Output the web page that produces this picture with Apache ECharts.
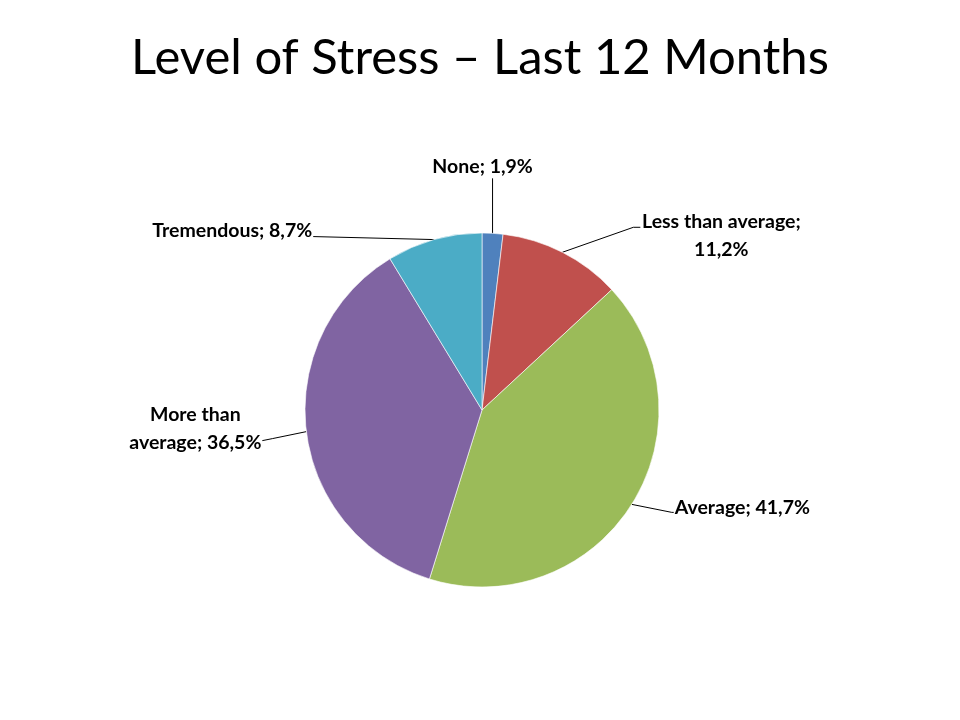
<!DOCTYPE html>
<html><head><meta charset="utf-8">
<script src="https://cdn.jsdelivr.net/npm/echarts@6/dist/echarts.min.js"></script>
<style>html,body{margin:0;padding:0;background:#fff}#c{width:960px;height:720px}</style>
</head><body><div id="c"></div>
<script>
var categories = ['None', 'Less than average', 'Average', 'More than average', 'Tremendous'];
var values = [1.9, 11.2, 41.7, 36.5, 8.7];
var labelTexts = ['None; 1,9%', 'Less than average;\n11,2%', 'Average; 41,7%', 'More than\naverage; 36,5%', 'Tremendous; 8,7%'];
var colors = ['#4F81BD', '#C0504D', '#9BBB59', '#8064A2', '#4BACC6'];

// label placement offsets relative to the slice anchor point (layout only)
var labelOffsets = [
  {dx: -10, dy: -67, align: 'center', line: [[0, -55]]},
  {dx: 159, dy: -17, align: 'center', line: [[71, -25], [78, -25]]},
  {dx: 43, dy: 3, align: 'left', line: [[40, 8], [42, 8]]},
  {dx: -111, dy: -3, align: 'center', line: [[-34, 7], [-44, 9]]},
  {dx: -122, dy: -9, align: 'right', line: [[-121, -3]]}
];

var chart = echarts.init(document.getElementById('c'), null, {renderer: 'canvas'});
var data = categories.map(function (c, i) {
  return {name: c, value: values[i], itemStyle: {color: colors[i]}};
});
chart.setOption({
  backgroundColor: '#fff',
  animation: false,
  title: {
    text: 'Level of Stress \u2013 Last 12 Months',
    left: 'center', top: 29,
    textStyle: {fontFamily: 'Lato', fontWeight: 'normal', fontSize: 49, color: '#000'}
  },
  series: [{
    type: 'pie',
    center: [482, 410],
    radius: 177,
    startAngle: 90,
    clockwise: true,
    data: data,
    itemStyle: {borderColor: 'rgba(255,255,255,0.6)', borderWidth: 1},
    label: {
      show: true,
      position: 'outside',
      formatter: function (p) { return labelTexts[p.dataIndex]; },
      fontFamily: 'Lato', fontWeight: 'bold', fontSize: 19.5, color: '#000',
      lineHeight: 28
    },
    labelLine: {show: true, length: 20, length2: 10, lineStyle: {color: '#000', width: 1}},
    labelLayout: function (params) {
      var o = labelOffsets[params.dataIndex];
      var a = params.labelLinePoints[0];
      var pts = [[a[0], a[1]]];
      o.line.forEach(function (p) { pts.push([a[0] + p[0], a[1] + p[1]]); });
      if (pts.length < 3) pts.push(pts[pts.length - 1].slice());
      return {
        x: a[0] + o.dx, y: a[1] + o.dy,
        align: o.align, verticalAlign: 'middle',
        labelLinePoints: pts
      };
    }
  }]
});
</script></body></html>
